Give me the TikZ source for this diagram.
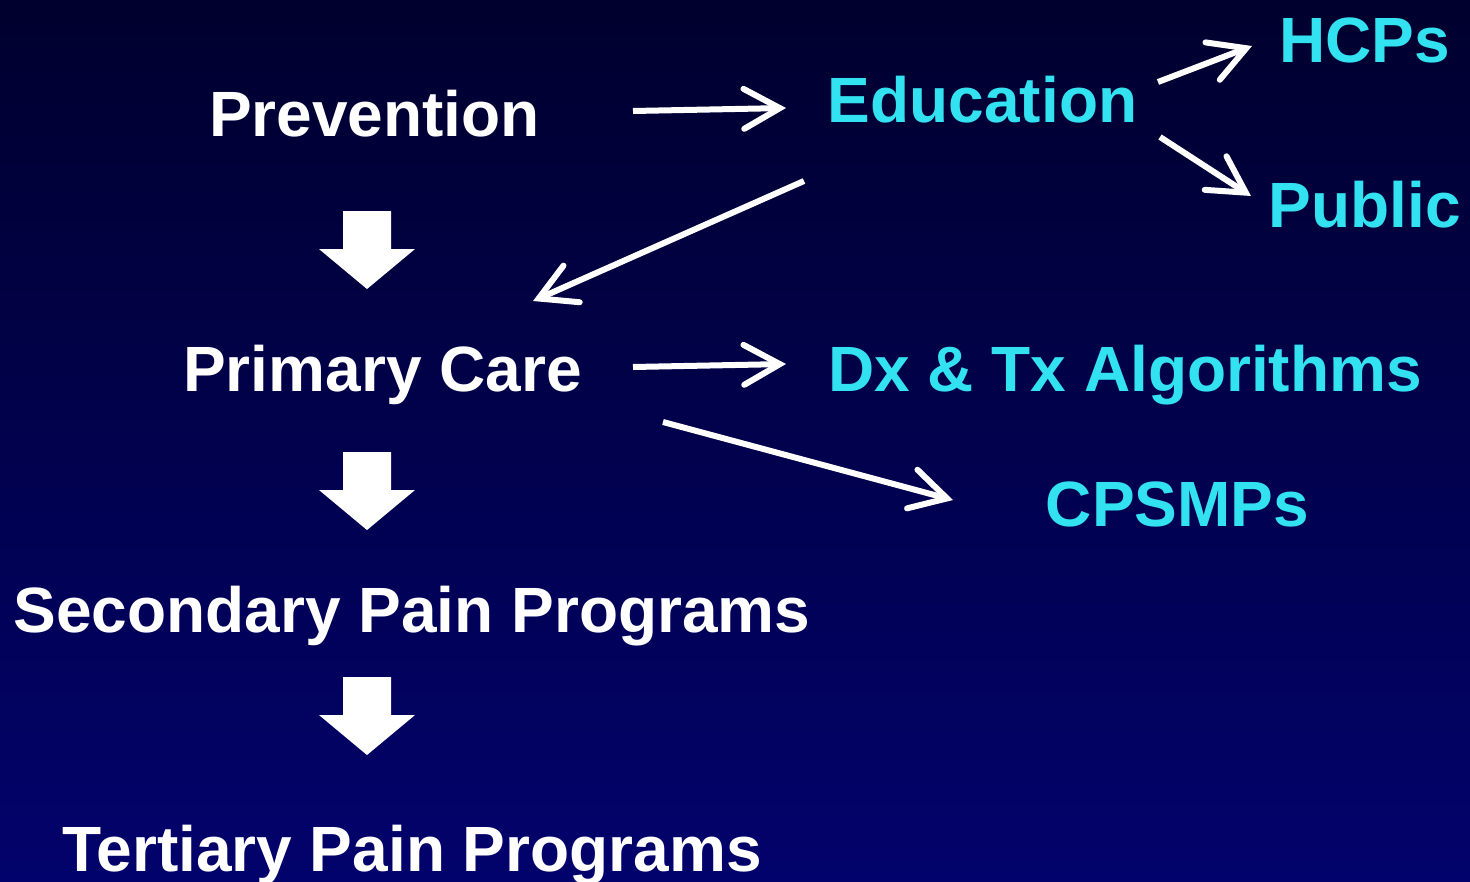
\documentclass[tikz,border=0pt]{standalone}
\usepackage{fontspec}
\setmainfont{Liberation Sans}
\usetikzlibrary{arrows.meta}
\definecolor{cyantext}{RGB}{51,226,240}
\definecolor{bgtop}{RGB}{0,0,46}
\definecolor{bgbot}{RGB}{2,2,108}
\tikzset{
  lbl/.style={anchor=base, inner sep=0pt, font=\fontsize{64}{70}\selectfont\bfseries, text=white},
  clbl/.style={lbl, text=cyantext},
  thin arrow/.style={draw=white, line width=6pt, line cap=butt,
    -{Straight Barb[length=36pt, width=40pt, line cap=round, line join=miter]}},
}
\begin{document}
\begin{tikzpicture}[x=1pt, y=-1pt]
\shade[top color=bgtop, bottom color=bgbot] (0,0) rectangle (1470,881);
\useasboundingbox (0,0) rectangle (1470,881);
% left column
\node[lbl] (prev) at (374.5,136) {Prevention};
\node[lbl] (prim) at (382.5,391) {Primary Care};
\node[lbl] (sec) at (412,632) {Secondary Pain Programs};
\node[lbl] (tert) at (412,871) {Tertiary Pain Programs};
% right side
\node[clbl] (edu) at (982.5,122) {Education};
\node[clbl] (hcp) at (1364.5,62) {HCPs};
\node[clbl] (pub) at (1365,227) {Public};
\node[clbl] (dx) at (1125,391) {Dx \& Tx Algorithms};
\node[clbl] (cps) at (1177.5,526) {CPSMPs};
% block arrows
\foreach \t in {211, 452, 677}{
  \fill[white] (343,\t) -- (391,\t) -- (391,\t+38) -- (415,\t+38) -- (367,\t+78)
     -- (319,\t+38) -- (343,\t+38) -- cycle;
}
% arrow end points
\coordinate (p1s) at (633,111); \coordinate (p1e) at (786,108);
\coordinate (e1s) at (1158,82); \coordinate (e1e) at (1252,46);
\coordinate (e2s) at (1160,137); \coordinate (e2e) at (1251,196);
\coordinate (e3s) at (804,181); \coordinate (e3e) at (533,301);
\coordinate (c1s) at (633,367); \coordinate (c1e) at (786,364);
\coordinate (c2s) at (663,422); \coordinate (c2e) at (953,500);
\draw[thin arrow] (p1s) -- (p1e);
\draw[thin arrow] (e1s) -- (e1e);
\draw[thin arrow] (e2s) -- (e2e);
\draw[thin arrow] (e3s) -- (e3e);
\draw[thin arrow] (c1s) -- (c1e);
\draw[thin arrow] (c2s) -- (c2e);
\end{tikzpicture}
\end{document}
